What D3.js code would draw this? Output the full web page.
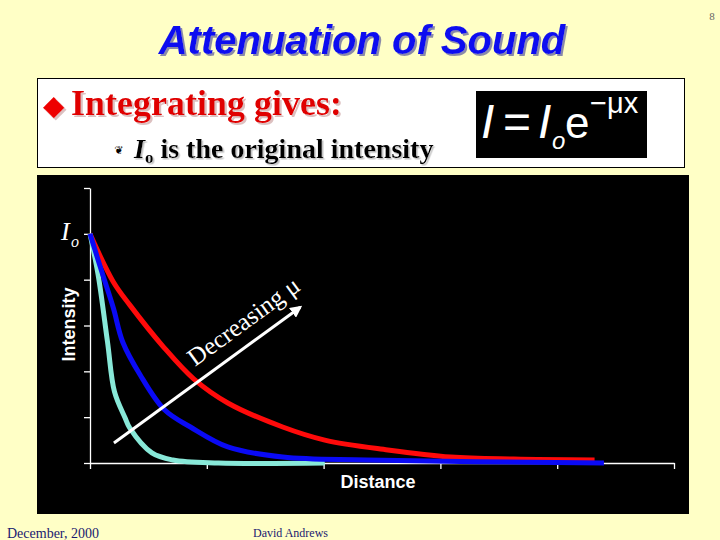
<!DOCTYPE html>
<html>
<head>
<meta charset="utf-8">
<script src="https://cdn.jsdelivr.net/npm/d3@7/dist/d3.min.js"></script>
<style>
  html, body { margin: 0; padding: 0; background: #FFFFC6; }
  svg { display: block; }
</style>
</head>
<body>
<svg id="chart" width="720" height="540"></svg>
<script>
// ---------- data ----------
const xTickValues = [0, 1, 2, 3, 4, 5];
const yTickValues = [0, 0.2, 0.4, 0.6, 0.8, 1.0, 1.2];

// red curve (smallest attenuation coefficient)
const redDistance  = [0, 0.20, 0.34, 0.63, 0.89, 1.18, 1.65, 2.01, 2.55, 3.09, 3.63, 4.32];
const redIntensity = [1, 0.79, 0.69, 0.506, 0.366, 0.262, 0.157, 0.10, 0.057, 0.026, 0.017, 0.013];

// blue curve
const blueDistance  = [0, 0.11, 0.20, 0.28, 0.43, 0.64, 0.86, 1.18, 1.65, 2.37, 4.40];
const blueIntensity = [1, 0.82, 0.676, 0.528, 0.384, 0.231, 0.157, 0.07, 0.026, 0.013, 0.0];

// cyan curve (largest attenuation coefficient)
const cyanDistance  = [0, 0.07, 0.15, 0.21, 0.30, 0.34, 0.53, 0.71, 1.10, 2.01];
const cyanIntensity = [1, 0.82, 0.528, 0.31, 0.197, 0.153, 0.044, 0.013, 0.0, 0.0];

const seriesNames  = ["red", "cyan", "blue"];
const seriesColors = ["#FF0A0A", "#88E8D8", "#0A0AF5"];

// annotation arrow (data units)
const arrowStart = [0.205, 0.087];
const arrowEnd   = [1.80, 0.68];
const arrowLabelPos = [0.90, 0.419];

// ---------- drawing ----------
const svg = d3.select("#chart");
const defs = svg.append("defs");
function shadow(id, color, d) {
  defs.append("filter").attr("id", id).attr("x", "-5%").attr("y", "-20%")
    .attr("width", "115%").attr("height", "150%")
    .append("feDropShadow").attr("dx", d).attr("dy", d).attr("stdDeviation", 0.4)
    .attr("flood-color", color).attr("flood-opacity", 1);
}
shadow("shTitle", "#8a8aa8", 2);
shadow("shRed", "#dcc0c0", 2);
shadow("shBlack", "#c0c0c0", 1.5);

// page number
svg.append("text").attr("x", 712).attr("y", 20)
  .attr("font-family", "Liberation Serif, Times New Roman, serif")
  .attr("font-size", 11).attr("fill", "#666").attr("text-anchor", "middle").text("8");

// title
const sans = "Liberation Sans, Arial, sans-serif";
const serif = "Liberation Serif, Times New Roman, serif";
svg.append("text").attr("x", 362).attr("y", 54).attr("text-anchor", "middle")
  .attr("font-family", sans).attr("font-size", 40).attr("font-weight", "bold")
  .attr("font-style", "italic").attr("fill", "#0C0CF0").attr("filter", "url(#shTitle)")
  .text("Attenuation of Sound");

// white box
svg.append("rect").attr("x", 37.5).attr("y", 78.5).attr("width", 647).attr("height", 89)
  .attr("fill", "#FFFFFF").attr("stroke", "#000").attr("stroke-width", 1);

// Integrating gives
const t1 = svg.append("text").attr("x", 43).attr("y", 115)
  .attr("font-family", serif).attr("font-size", 36).attr("font-weight", "bold")
  .attr("fill", "#E00000").attr("filter", "url(#shRed)");
t1.append("tspan").attr("font-family", "DejaVu Sans, sans-serif").attr("font-size", 28)
  .attr("fill", "#EE0000").text("\u25C6");
t1.append("tspan").attr("x", 71).text("Integrating gives:");

// second line
const t2 = svg.append("text").attr("y", 158).attr("font-family", serif)
  .attr("font-size", 28).attr("font-weight", "bold").attr("fill", "#000")
  .attr("filter", "url(#shBlack)");
t2.append("tspan").attr("x", 134).attr("font-style", "italic").text("I");
t2.append("tspan").attr("font-size", 17).attr("dy", 5).text("o");
t2.append("tspan").attr("dy", -5).text(" is the original intensity");
svg.append("text").attr("x", 119).attr("y", 154).attr("text-anchor", "middle")
  .attr("font-family", "DejaVu Sans, sans-serif").attr("font-size", 11).attr("fill", "#000")
  .text("\u2766");

// formula box
svg.append("rect").attr("x", 476).attr("y", 91).attr("width", 171).attr("height", 67).attr("fill", "#000");
const ft = (x, y, s, txt, style) => svg.append("text").attr("x", x).attr("y", y)
  .attr("font-family", sans).attr("font-size", s).attr("fill", "#fff")
  .attr("font-style", style || "normal").text(txt);
ft(481, 138, 48, "I", "italic");
ft(503, 138, 48, "=");
ft(538, 138, 48, "I", "italic");
ft(552, 149, 24, "o", "italic");
ft(565, 138, 44, "e");
ft(590, 113, 29, "\u2212\u03BCx");

// chart panel
svg.append("rect").attr("x", 37).attr("y", 175).attr("width", 652).attr("height", 339).attr("fill", "#000");

const x = d3.scaleLinear().domain([0, 5]).range([90, 674]);
const y = d3.scaleLinear().domain([0, 1.2]).range([463, 188]);

const yAxis = d3.axisLeft(y).tickValues(yTickValues).tickFormat("").tickSize(6).tickSizeOuter(0);
const xAxis = d3.axisBottom(x).tickValues(xTickValues).tickFormat("").tickSize(6).tickSizeOuter(0);

const gy = svg.append("g").attr("transform", `translate(${x(0)},0)`).call(yAxis);
const gx = svg.append("g").attr("transform", `translate(0,${y(0)})`).call(xAxis);
[gx, gy].forEach(g => {
  g.selectAll("path").attr("stroke", "#fff").attr("stroke-width", 1.3);
  g.selectAll("line").attr("stroke", "#fff").attr("stroke-width", 1.3);
});

// Io label
const io = svg.append("text").attr("x", 61).attr("y", y(1) + 6).attr("font-family", serif)
  .attr("font-size", 26).attr("font-style", "italic").attr("fill", "#fff");
io.append("tspan").text("I");
io.append("tspan").attr("x", 71).attr("dy", 7).attr("font-size", 16).text("o");

// axis titles
svg.append("text").attr("transform", `translate(75,${y(0.6) - 1}) rotate(-90)`)
  .attr("text-anchor", "middle").attr("font-family", sans).attr("font-weight", "bold")
  .attr("font-size", 18).attr("fill", "#fff").text("Intensity");
svg.append("text").attr("x", 378).attr("y", 488).attr("text-anchor", "middle")
  .attr("font-family", sans).attr("font-weight", "bold").attr("font-size", 18)
  .attr("fill", "#fff").text("Distance");

// curves
const seriesData = {
  red: d3.zip(redDistance, redIntensity),
  cyan: d3.zip(cyanDistance, cyanIntensity),
  blue: d3.zip(blueDistance, blueIntensity)
};
const line = d3.line().x(d => x(d[0])).y(d => y(d[1])).curve(d3.curveCatmullRom.alpha(0.5));
seriesNames.forEach((name, i) => {
  svg.append("path").datum(seriesData[name]).attr("d", line)
    .attr("fill", "none").attr("stroke", seriesColors[i]).attr("stroke-width", 5)
    .attr("stroke-linecap", "butt").attr("stroke-linejoin", "round");
});

// arrow
defs.append("marker").attr("id", "ah").attr("viewBox", "0 0 10 10").attr("refX", 8).attr("refY", 5)
  .attr("markerWidth", 4).attr("markerHeight", 4).attr("orient", "auto")
  .append("path").attr("d", "M0,0 L10,5 L0,10 z").attr("fill", "#fff");
svg.append("line")
  .attr("x1", x(arrowStart[0])).attr("y1", y(arrowStart[1]))
  .attr("x2", x(arrowEnd[0])).attr("y2", y(arrowEnd[1]))
  .attr("stroke", "#fff").attr("stroke-width", 3).attr("marker-end", "url(#ah)");
const ang = Math.atan2(y(arrowEnd[1]) - y(arrowStart[1]), x(arrowEnd[0]) - x(arrowStart[0])) * 180 / Math.PI;
svg.append("text")
  .attr("transform", `translate(${x(arrowLabelPos[0])},${y(arrowLabelPos[1])}) rotate(${ang})`)
  .attr("font-family", serif).attr("font-size", 25).attr("fill", "#fff")
  .text("Decreasing \u03BC");

// footer
svg.append("text").attr("x", 7).attr("y", 538).attr("font-family", serif).attr("font-size", 14)
  .attr("fill", "#1a1a70").text("December, 2000");
svg.append("text").attr("x", 253).attr("y", 537).attr("font-family", serif).attr("font-size", 12)
  .attr("fill", "#1a1a70").text("David Andrews");
</script>
</body>
</html>
